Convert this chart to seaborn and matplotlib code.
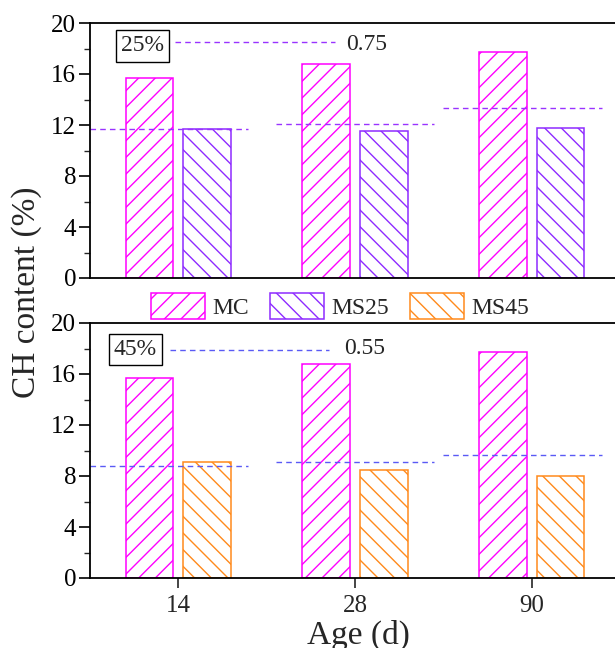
import matplotlib
matplotlib.use("Agg")
import matplotlib.pyplot as plt
import seaborn as sns
import pandas as pd
from matplotlib.patches import Patch

sns.set_theme(style="ticks")
plt.rcParams['font.family'] = ['Liberation Serif', 'DejaVu Serif']
plt.rcParams['hatch.linewidth'] = 1.0

ages = ["14", "28", "90"]
mc = [15.7, 16.8, 17.7]
ms25 = [11.7, 11.5, 11.8]
ms45 = [9.1, 8.5, 8.0]
ref25 = [11.7, 12.05, 13.3]   # 0.75 x MC reference lines
ref45 = [8.8, 9.07, 9.67]     # 0.55 x MC reference lines
labels_top = ["25%", "0.75"]
labels_bot = ["45%", "0.55"]

colors = {"MC": "#FF00FF", "MS25": "#8E2BFF", "MS45": "#FF8A1C"}
hatches = {"MC": "//", "MS25": "\\\\", "MS45": "\\\\"}
line_top = "#9933FF"
line_bot = "#5A5AF5"

fig = plt.figure(figsize=(6.15, 6.48), dpi=100)
L = 90 / 615
W = (620 - 90) / 615
ax1 = fig.add_axes([L, 1 - 278 / 648, W, (278 - 23) / 648])
ax2 = fig.add_axes([L, 1 - 578 / 648, W, (578 - 323) / 648])


def draw(ax, other, refs, lcol):
    df = pd.DataFrame({
        "Age": ages * 2,
        "val": mc + other[1],
        "mix": ["MC"] * 3 + [other[0]] * 3,
    })
    sns.barplot(data=df, x="Age", y="val", hue="mix", order=ages,
                hue_order=["MC", other[0]], ax=ax, width=0.655, gap=0.175,
                palette={"MC": "white", other[0]: "white"}, legend=False,
                saturation=1)
    names = ["MC"] * 3 + [other[0]] * 3
    for p, n in zip(ax.patches, names):
        p.set_facecolor("white")
        p.set_edgecolor(colors[n])
        p.set_hatch(hatches[n])
        p.set_linewidth(1.1)
    spans = [(-0.5, 0.395), (-0.45, 0.446), (-0.5, 0.40)]
    for i, (r, sp) in enumerate(zip(refs, spans)):
        ax.plot([i + sp[0], i + sp[1]], [r, r], color=lcol, lw=1.0,
                ls=(0, (4, 3)))
    ax.set_xlim(-0.5, 2.5)
    ax.set_ylim(0, 20)
    ax.set_yticks([0, 4, 8, 12, 16, 20])
    ax.set_yticks([2, 6, 10, 14, 18], minor=True)
    ax.set_xlabel("")
    ax.set_ylabel("")
    for s in ["top", "left", "bottom", "right"]:
        ax.spines[s].set_visible(True)
        ax.spines[s].set_linewidth(1.3)
        ax.spines[s].set_color("black")
    ax.tick_params(axis="y", which="major", length=8, width=1.2,
                   labelsize=18, direction="out", pad=2, colors="black")
    ax.tick_params(axis="y", which="minor", length=4, width=1.0,
                   direction="out", left=True)
    ax.tick_params(axis="x", length=7, width=1.2, labelsize=18, pad=5)


draw(ax1, ("MS25", ms25), ref25, line_top)
draw(ax2, ("MS45", ms45), ref45, line_bot)

ax1.tick_params(axis="x", bottom=False, labelbottom=False)

# annotations
ax1.text(-0.203, 18.2, labels_top[0], fontsize=17, ha="center", va="center",
         bbox=dict(boxstyle="square,pad=0.22", fc="white", ec="black", lw=1.0))
ax1.plot([-0.017, 0.887], [18.5, 18.5], color=line_top, lw=1.0, ls=(0, (4, 3)))
ax1.text(0.949, 18.35, labels_top[1], fontsize=17, ha="left", va="center")

ax2.text(-0.243, 17.9, labels_bot[0], fontsize=17, ha="center", va="center",
         bbox=dict(boxstyle="square,pad=0.22", fc="white", ec="black", lw=1.0))
ax2.plot([-0.045, 0.853], [17.9, 17.9], color=line_bot, lw=1.0, ls=(0, (4, 3)))
ax2.text(0.938, 18.0, labels_bot[1], fontsize=17, ha="left", va="center")

# legend
handles = [Patch(facecolor="white", edgecolor=colors[n], hatch=hatches[n],
                 linewidth=1.1, label=n) for n in ["MC", "MS25", "MS45"]]
fig.legend(handles=handles, loc="center", bbox_to_anchor=(340 / 615, 1 - 306 / 648),
           ncol=3, frameon=False, fontsize=17, handlelength=2.29,
           handleheight=1.36, columnspacing=0.89, handletextpad=0.3,
           borderpad=0.1)

fig.text(27 / 615, 1 - 292 / 648, "CH content (%)", rotation=90, fontsize=24,
         ha="center", va="center")
fig.text(358 / 615, 1 - 620 / 648, "Age (d)", fontsize=24, ha="center", va="top")

fig.savefig("out.png", dpi=100)
